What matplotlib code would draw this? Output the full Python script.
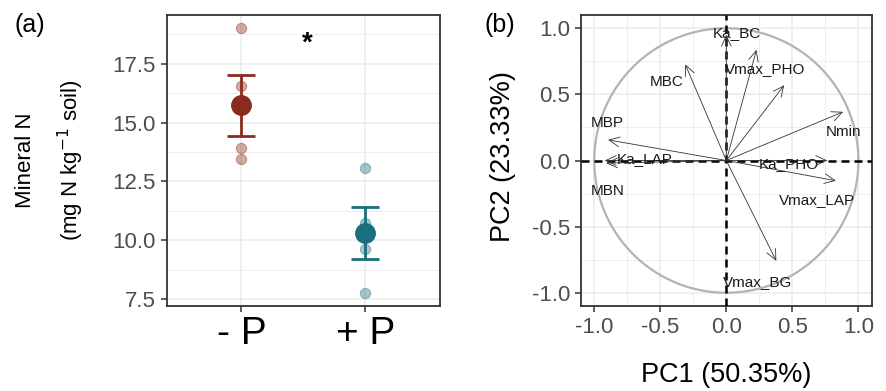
import numpy as np
import matplotlib
matplotlib.use('Agg')
import matplotlib.pyplot as plt

plt.rcParams['font.family'] = ['Liberation Sans', 'DejaVu Sans']

# panel (a) data
groups = ['- P', '+ P']
minus_p = [19.0, 16.54, 13.93, 13.46]
plus_p = [13.09, 10.75, 9.65, 7.78]
colors = ['#8B2B1E', '#1A6E7E']

# panel (b) data: PCA loadings
variables = ['Ka_BC', 'Vmax_PHO', '', 'MBC', 'MBP', 'Nmin', 'Ka_LAP', 'MBN',
             'Ka_PHO', 'Vmax_LAP', 'Vmax_BG']
pc1 = [0.0, 0.228, 0.438, -0.311, -0.895, 0.884, -0.92, -0.91, 0.764, 0.829, 0.378]
pc2 = [0.95, 0.837, 0.569, 0.727, 0.156, 0.368, 0.0, -0.02, 0.0, -0.153, -0.759]
# where the (repelled) labels sit
label_x = [0.083, 0.295, None, -0.449, -0.902, 0.89, -0.62, -0.895, 0.47, 0.69, 0.233]
label_y = [0.965, 0.695, None, 0.594, 0.281, 0.218, 0.01, -0.233, -0.025, -0.295, -0.917]

grid_col = '#EBEBEB'
tick_col = '#4D4D4D'

fig = plt.figure(figsize=(8.86, 3.91), dpi=100)
axa = fig.add_axes([0.1885, 0.2174, 0.3076, 0.7442])
axb = fig.add_axes([0.6558, 0.2174, 0.328, 0.7442])

for ax in (axa, axb):
    ax.set_axisbelow(True)
    for s in ax.spines.values():
        s.set_color('#333333')
        s.set_linewidth(1.3)
    ax.tick_params(axis='both', length=4.5, width=1.1, color='#333333',
                   labelcolor=tick_col, labelsize=16, pad=3.5)

# ---- panel (a)
axa.set_xlim(0.4, 2.6)
axa.set_ylim(7.22, 19.56)
axa.set_xticks([1, 2])
axa.set_xticklabels(groups, fontsize=28, color='black')
axa.tick_params(axis='x', pad=2.5)
axa.set_yticks([7.5, 10.0, 12.5, 15.0, 17.5])
axa.set_yticklabels(['7.5', '10.0', '12.5', '15.0', '17.5'])
axa.set_yticks([8.75, 11.25, 13.75, 16.25, 18.75], minor=True)
axa.tick_params(axis='y', which='minor', length=0)
axa.grid(True, which='major', color=grid_col, lw=1.1)
axa.grid(True, which='minor', axis='y', color=grid_col, lw=0.6)

for i, vals in enumerate([minus_p, plus_p]):
    x = i + 1
    vals = np.array(vals)
    m = vals.mean()
    se = vals.std(ddof=1) / np.sqrt(len(vals))
    axa.scatter([x] * len(vals), vals, s=55, color=colors[i], alpha=0.4,
                edgecolors=colors[i], linewidths=0.8, zorder=3)
    axa.errorbar(x, m, yerr=se, color=colors[i], lw=2, capsize=10,
                 capthick=2, zorder=4)
    axa.plot(x, m, 'o', color=colors[i], ms=14, zorder=5)

axa.text(1.53, 18.36, '*', fontsize=20, fontweight='bold', ha='center', va='center')

fig.text(30 / 886, 1 - 25 / 391, '(a)', fontsize=18, ha='center', va='center')
fig.text(26 / 886, 1 - 160 / 391, 'Mineral N', fontsize=16, rotation=90,
         ha='center', va='center')
fig.text(71 / 886, 1 - 160 / 391, r'(mg N kg$^{-1}$ soil)', fontsize=16,
         rotation=90, ha='center', va='center')

# ---- panel (b)
axb.set_xlim(-1.1, 1.1)
axb.set_ylim(-1.1, 1.1)
ticks = [-1.0, -0.5, 0.0, 0.5, 1.0]
axb.set_xticks(ticks)
axb.set_yticks(ticks)
axb.set_xticklabels(['%.1f' % t for t in ticks])
axb.set_yticklabels(['%.1f' % t for t in ticks])
axb.set_xticks([-0.75, -0.25, 0.25, 0.75], minor=True)
axb.set_yticks([-0.75, -0.25, 0.25, 0.75], minor=True)
axb.tick_params(which='minor', length=0)
axb.grid(True, which='major', color=grid_col, lw=1.1)
axb.grid(True, which='minor', color=grid_col, lw=0.6)

t = np.linspace(0, 2 * np.pi, 400)
axb.plot(np.cos(t), np.sin(t), color='#B3B3B3', lw=1.6, zorder=2)
axb.axhline(0, color='black', lw=1.8, ls=(0, (3.2, 2)), zorder=3)
axb.axvline(0, color='black', lw=1.8, ls=(0, (3.2, 2)), zorder=3)

for name, x, y, lx, ly in zip(variables, pc1, pc2, label_x, label_y):
    axb.annotate('', xy=(x, y), xytext=(0, 0),
                 arrowprops=dict(arrowstyle='->,head_length=0.75,head_width=0.35',
                                 lw=0.6, color='#333333', shrinkA=0, shrinkB=0),
                 zorder=4)
    if name:
        axb.text(lx, ly, name, fontsize=11, color='#1A1A1A',
                 ha='center', va='center', zorder=5)

fig.text(500 / 886, 1 - 25 / 391, '(b)', fontsize=18, ha='center', va='center')
fig.text(503 / 886, 1 - 157 / 391, 'PC2 (23.33%)', fontsize=19.5, rotation=90,
         ha='center', va='center')
fig.text(725.7 / 886, 1 - 375 / 391, 'PC1 (50.35%)', fontsize=19.5,
         ha='center', va='center')

fig.savefig('out.png', dpi=100)
